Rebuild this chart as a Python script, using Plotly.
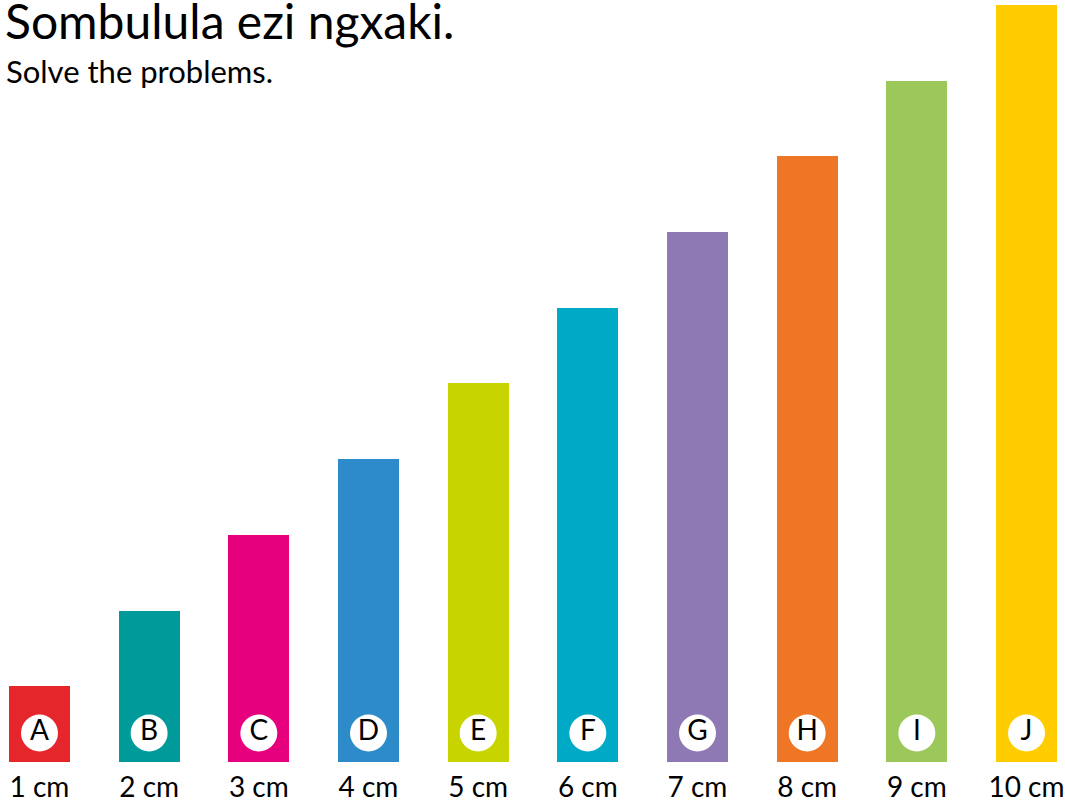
import plotly.graph_objects as go

# Bar data: letter, length in cm, colour
letters = ["A", "B", "C", "D", "E", "F", "G", "H", "I", "J"]
lengths_cm = [1, 2, 3, 4, 5, 6, 7, 8, 9, 10]
tick_labels = ["1 cm", "2 cm", "3 cm", "4 cm", "5 cm", "6 cm", "7 cm", "8 cm", "9 cm", "10 cm"]
colors = ["#E5262B", "#009A9A", "#E6007E", "#2E8BC9", "#C8D400",
          "#00AAC6", "#8E79B5", "#EE7624", "#9CC75A", "#FFCC00"]

title_text = "Sombulula ezi ngxaki."
subtitle_text = "Solve the problems."

FONT = "Lato, 'DejaVu Sans', sans-serif"
xs = list(range(len(letters)))

fig = go.Figure()

fig.add_trace(go.Bar(
    x=xs, y=lengths_cm, width=0.556,
    marker=dict(color=colors, line=dict(width=0)),
    hoverinfo="skip", showlegend=False,
))

# White letter badges near the base of each bar
fig.add_trace(go.Scatter(
    x=xs, y=[0.383] * len(xs), mode="markers+text",
    marker=dict(size=37, color="white", line=dict(width=0)),
    text=letters, textposition="middle center",
    textfont=dict(family=FONT, size=28, color="black"),
    hoverinfo="skip", showlegend=False,
))

# Length labels under the bars
fig.add_trace(go.Scatter(
    x=xs, y=[-0.365] * len(xs), mode="text",
    text=tick_labels, textposition="middle center",
    textfont=dict(family=FONT, size=28, color="black"),
    hoverinfo="skip", showlegend=False,
))

fig.add_annotation(
    text=title_text, xref="paper", yref="paper", x=0, y=1,
    xanchor="left", yanchor="top", xshift=3, yshift=10, showarrow=False,
    font=dict(family=FONT, size=48, color="black"),
)
fig.add_annotation(
    text=subtitle_text, xref="paper", yref="paper", x=0, y=1,
    xanchor="left", yanchor="top", xshift=4, yshift=-50, showarrow=False,
    font=dict(family=FONT, size=31, color="black"),
)

fig.update_layout(
    width=1065, height=804,
    margin=dict(l=0, r=0, t=0, b=0),
    paper_bgcolor="white", plot_bgcolor="white",
    xaxis=dict(range=[-0.360, 9.351], visible=False, fixedrange=True),
    yaxis=dict(range=[-0.555, 10.066], visible=False, fixedrange=True),
    bargap=0,
)

fig.write_html("out.html")
